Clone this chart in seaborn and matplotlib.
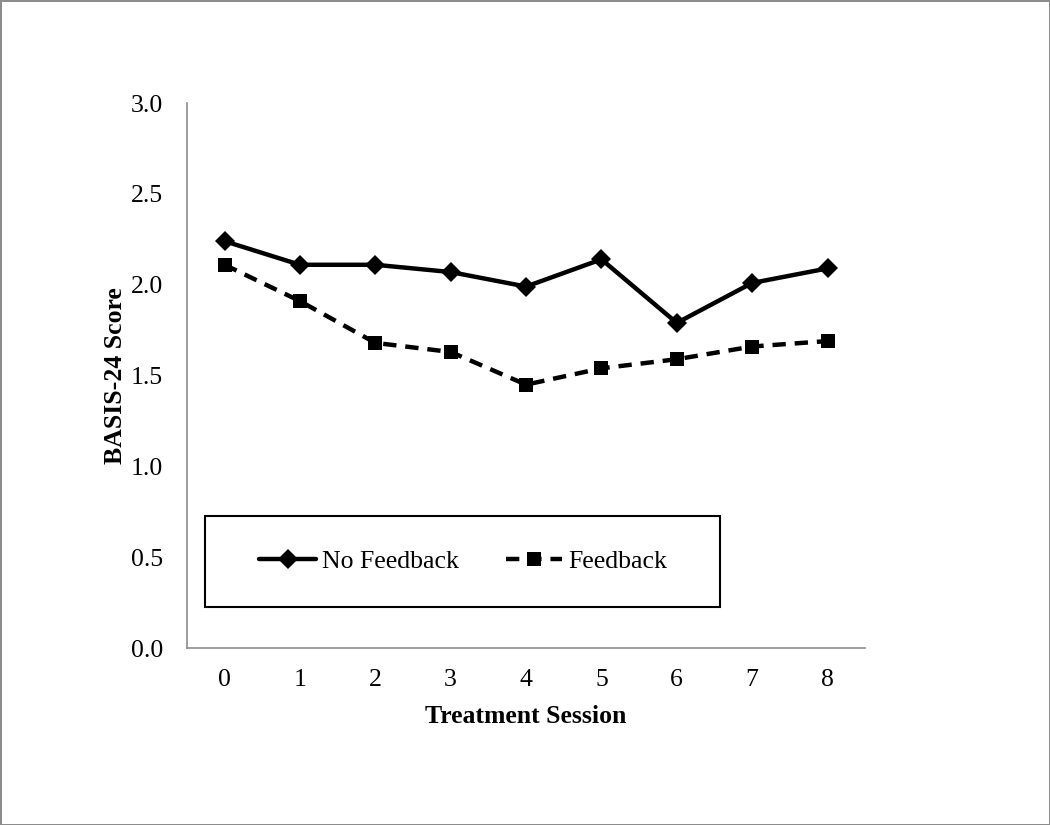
import numpy as np
import pandas as pd
import matplotlib
matplotlib.use("Agg")
import matplotlib.pyplot as plt
import seaborn as sns
from matplotlib.patches import Rectangle

# values
sessions = [0, 1, 2, 3, 4, 5, 6, 7, 8]
no_feedback = [2.24, 2.11, 2.11, 2.07, 1.99, 2.14, 1.79, 2.01, 2.09]
feedback = [2.11, 1.91, 1.68, 1.63, 1.45, 1.54, 1.59, 1.66, 1.69]
group_names = ["No Feedback", "Feedback"]
y_ticks = [0.0, 0.5, 1.0, 1.5, 2.0, 2.5, 3.0]

df = pd.DataFrame({
    "session": sessions * 2,
    "score": no_feedback + feedback,
    "group": [group_names[0]] * len(sessions) + [group_names[1]] * len(sessions),
})

sns.set_style("white")
plt.rcParams["font.family"] = ["Liberation Serif", "DejaVu Serif"]
plt.rcParams["text.color"] = "black"
plt.rcParams["axes.labelcolor"] = "black"
plt.rcParams["xtick.labelcolor"] = "black"
plt.rcParams["ytick.labelcolor"] = "black"

fs = 18.5

fig = plt.figure(figsize=(10.5, 8.25), dpi=100)
fig.patch.set_edgecolor("#8c8c8c")
fig.patch.set_linewidth(2)
ax = fig.add_axes([0.178, 0.2145, 0.646, 0.6605])

sns.lineplot(
    data=df, x="session", y="score", style="group", hue="group",
    palette={group_names[0]: "black", group_names[1]: "black"},
    dashes={group_names[0]: "", group_names[1]: (3, 2)},
    markers={group_names[0]: "D", group_names[1]: "s"},
    markersize=10, markeredgewidth=0, linewidth=3.2, ax=ax, legend=True,
)

ax.set_xlim(-0.5, 8.5)
ax.set_ylim(0, 3.0)
ax.set_yticks(y_ticks)
ax.set_yticklabels([f"{v:.1f}" for v in y_ticks], fontsize=fs)
ax.set_xticks(sessions)
ax.set_xticklabels([str(s) for s in sessions], fontsize=fs)
ax.set_xticks(np.arange(-0.5, 9, 1), minor=True)
ax.tick_params(axis="x", which="major", length=0, pad=15)
ax.tick_params(axis="x", which="minor", length=7, width=1.2, color="#8c8c8c", direction="out")
ax.tick_params(axis="y", length=7, width=1.2, color="#8c8c8c", direction="out", pad=10)

for side in ["top", "right"]:
    ax.spines[side].set_visible(False)
for side in ["left", "bottom"]:
    ax.spines[side].set_color("#8c8c8c")
    ax.spines[side].set_linewidth(1.2)

ax.set_xlabel("Treatment Session", fontsize=fs, fontweight="bold", labelpad=10)
ax.set_ylabel("BASIS-24 Score", fontsize=fs, fontweight="bold", labelpad=3)

# legend inside a plain black box
handles, labels = ax.get_legend_handles_labels()
for h in handles:
    h.set_markersize(10)
leg = ax.legend(handles, labels, loc="center left", bbox_to_anchor=(0.088, 0.158),
                ncol=2, frameon=False, fontsize=fs, handlelength=2.2,
                handletextpad=0.25, columnspacing=1.8, borderpad=0)
ax.add_patch(Rectangle((0.0265, 0.075), 0.76, 0.167, transform=ax.transAxes,
                       fill=False, edgecolor="black", linewidth=1.5, clip_on=False))

fig.savefig("out.png", dpi=100)
